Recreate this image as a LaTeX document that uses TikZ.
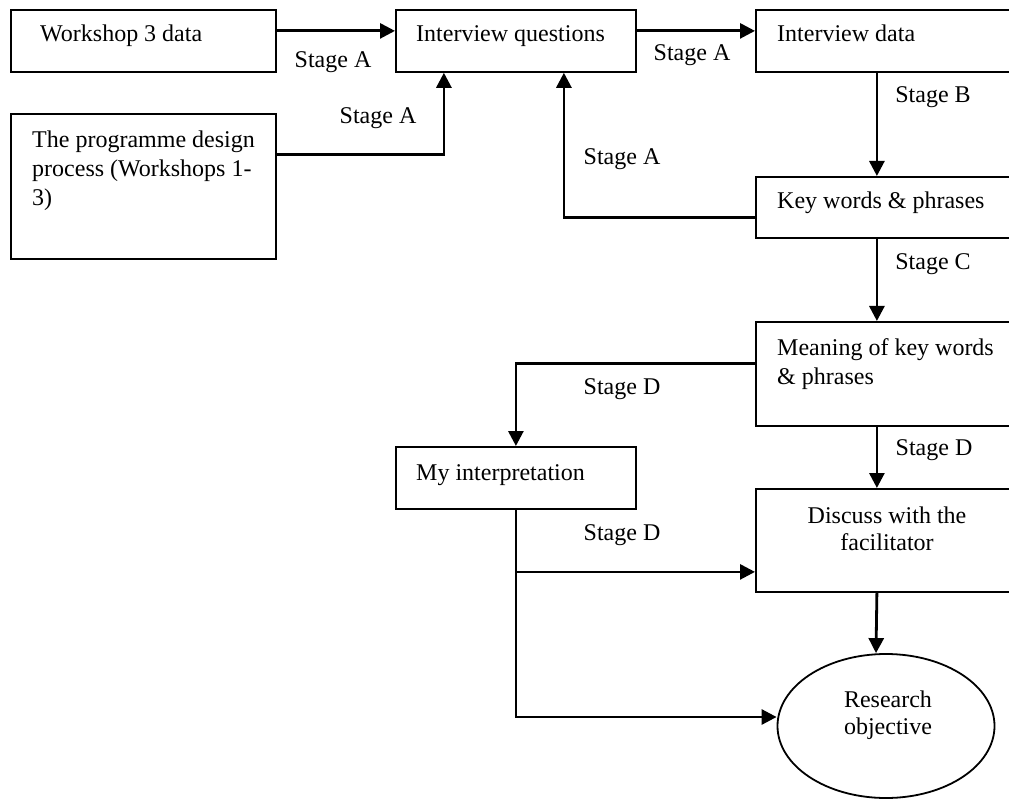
\documentclass[tikz,border=0pt]{standalone}
\usepackage{fontspec}
\setmainfont{Liberation Serif}
\usetikzlibrary{arrows.meta,shapes.geometric}
\begin{document}
\begin{tikzpicture}[x=1pt,y=-1pt,
  box/.style={draw, line width=1.8pt, rectangle, inner sep=0pt, anchor=north west},
  oval/.style={draw, line width=1.8pt, ellipse, inner sep=0pt},
  arr/.style={line width=2.8pt, -{Triangle[length=15pt,width=15pt]}},
  lbl/.style={font=\fontsize{24}{28}\selectfont, inner sep=0pt},
  txt/.style={font=\fontsize{24}{29}\selectfont, inner sep=0pt, anchor=base west},
  mtxt/.style={font=\fontsize{24}{29}\selectfont, inner sep=0pt, anchor=north west, align=left},
  ctxt/.style={font=\fontsize{24}{27}\selectfont, inner sep=0pt, anchor=north, align=center}]
\useasboundingbox[fill=white] (0,0) rectangle (1009,799);

% boxes
\node[box, minimum width=265pt, minimum height=62pt] (WS) at (10,9) {};
\node[box, minimum width=265pt, minimum height=145pt] (PD) at (10,113) {};
\node[box, minimum width=240pt, minimum height=62pt] (IQ) at (395,9) {};
\node[box, minimum width=262pt, minimum height=62pt] (ID) at (755,9) {};
\node[box, minimum width=262pt, minimum height=61pt] (KW) at (755,176) {};
\node[box, minimum width=262pt, minimum height=104pt] (MN) at (755,321) {};
\node[box, minimum width=240pt, minimum height=62pt] (MI) at (395,446) {};
\node[box, minimum width=262pt, minimum height=103pt] (DI) at (755,488) {};
\node[oval, minimum width=217pt, minimum height=144pt] (RO) at (886,726) {};

% box texts
\node[txt] (tWS) at (40,42) {Workshop 3 data};
\node[mtxt] (tPD) at (32,130.5) {The programme design\\process (Workshops 1-\\3)};
\node[txt] (tIQ) at (416,42) {Interview questions};
\node[txt] (tID) at (777,42) {Interview data};
\node[txt] (tKW) at (777,209) {Key words \& phrases};
\node[mtxt] (tMN) at (777,338.5) {Meaning of key words\\\& phrases};
\node[txt] (tMI) at (416,480) {My interpretation};
\node[ctxt] (tDI) at (887,506.5) {Discuss with the\\facilitator};
\node[ctxt] (tRO) at (888,690.5) {Research\\objective};

% connectors
\draw[arr] ([yshift=10pt]WS.east) -- ([yshift=10pt]IQ.west);
\draw[arr] ([yshift=10pt]IQ.east) -- ([yshift=10pt]ID.west);
\draw[arr] ([yshift=31.5pt]PD.east) -| ([xshift=-72pt]IQ.south);
\draw[arr] ([xshift=-10pt]ID.south) -- ([xshift=-10pt]KW.north);
\draw[arr] ([yshift=-10.5pt]KW.west) -| ([xshift=48pt]IQ.south);
\draw[arr] ([xshift=-10pt]KW.south) -- ([xshift=-10pt]MN.north);
\draw[arr] ([yshift=10pt]MN.west) -| (MI.north);
\draw[arr] ([xshift=-10pt]MN.south) -- ([xshift=-10pt]DI.north);
\coordinate (brD) at ([yshift=-31.5pt]DI.west);
\draw[arr] (MI.south) |- ([yshift=9pt]RO.west);
\draw[arr] (MI.south |- brD) -- (brD);
\draw[arr] ([xshift=-10pt]DI.south) -- ([xshift=-10pt]RO.north);

% stage labels
\node[lbl] (sA1) at (333,62) {Stage A};
\node[lbl] (sA2) at (378,118) {Stage A};
\node[lbl] (sA3) at (692,55) {Stage A};
\node[lbl] (sB) at (933,97) {Stage B};
\node[lbl] (sA4) at (622,159) {Stage A};
\node[lbl] (sC) at (933,264) {Stage C};
\node[lbl] (sD1) at (622,389) {Stage D};
\node[lbl] (sD2) at (934,450) {Stage D};
\node[lbl] (sD3) at (622,535) {Stage D};
\end{tikzpicture}
\end{document}
